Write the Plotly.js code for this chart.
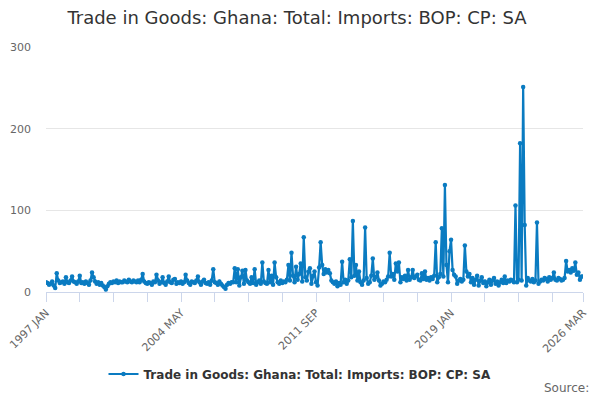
<!DOCTYPE html>
<html>
<head>
<meta charset="utf-8">
<script src="https://cdn.plot.ly/plotly-3.0.1.min.js"></script>
<style>html,body{margin:0;padding:0;background:#fff;}#chart{width:600px;height:400px;}</style>
</head>
<body>
<div id="chart"></div>
<script>
// Monthly series, 1997 JAN .. 2026 MAR
var startYear = 1997;
var monthNames = ['JAN','FEB','MAR','APR','MAY','JUN','JUL','AUG','SEP','OCT','NOV','DEC'];
var v1997 = [12, 11, 9, 10, 13, 8, 5, 23, 14, 11, 12, 13];
var v1998 = [10, 18, 12, 11, 14, 19, 13, 12, 10, 13, 20, 11];
var v1999 = [12, 10, 13, 11, 9, 14, 24, 18, 13, 10, 12, 9];
var v2000 = [11, 8, 6, 3, 7, 10, 12, 11, 13, 12, 14, 11];
var v2001 = [13, 12, 12, 14, 13, 12, 15, 13, 12, 14, 13, 12];
var v2002 = [14, 12, 15, 22, 13, 11, 10, 12, 11, 9, 13, 12];
var v2003 = [21, 14, 10, 12, 18, 11, 9, 13, 19, 12, 11, 15];
var v2004 = [16, 10, 12, 11, 13, 10, 12, 21, 14, 11, 9, 13];
var v2005 = [12, 11, 14, 19, 12, 9, 13, 15, 11, 10, 12, 9];
var v2006 = [14, 28, 12, 11, 9, 13, 10, 8, 6, 4, 9, 11];
var v2007 = [10, 12, 12, 29, 12, 28, 8, 18, 26, 10, 27, 14];
var v2008 = [12, 10, 18, 11, 28, 9, 12, 14, 10, 36, 13, 11];
var v2009 = [10, 27, 12, 20, 9, 36, 18, 12, 10, 14, 11, 13];
var v2010 = [12, 15, 33, 14, 48, 20, 12, 31, 15, 22, 35, 13];
var v2011 = [67, 18, 14, 25, 29, 10, 20, 25, 12, 8, 30, 61];
var v2012 = [33, 22, 28, 24, 27, 23, 14, 12, 10, 13, 7, 11];
var v2013 = [9, 37, 12, 15, 10, 14, 40, 18, 87, 20, 33, 14];
var v2014 = [25, 12, 9, 14, 79, 17, 10, 12, 20, 41, 15, 18];
var v2015 = [24, 14, 8, 10, 13, 12, 15, 19, 48, 19, 22, 15];
var v2016 = [35, 25, 36, 12, 18, 16, 20, 14, 27, 15, 18, 27];
var v2017 = [17, 19, 21, 15, 14, 23, 16, 25, 15, 17, 14, 18];
var v2018 = [16, 20, 61, 12, 18, 22, 78, 19, 131, 33, 12, 50];
var v2019 = [64, 27, 21, 19, 10, 14, 16, 13, 15, 57, 25, 19];
var v2020 = [22, 12, 17, 9, 15, 20, 8, 14, 18, 11, 13, 7];
var v2021 = [12, 15, 9, 14, 17, 10, 13, 8, 12, 15, 11, 19];
var v2022 = [11, 14, 13, 15, 14, 12, 106, 12, 15, 182, 14, 251];
var v2023 = [82, 8, 17, 14, 13, 16, 12, 14, 85, 10, 13, 15];
var v2024 = [14, 17, 16, 13, 18, 15, 17, 24, 15, 14, 17, 16];
var v2025 = [14, 15, 17, 38, 25, 27, 24, 29, 26, 36, 21, 24];
var v2026 = [15, 19, 19];

var yearValues = [v1997,v1998,v1999,v2000,v2001,v2002,v2003,v2004,v2005,v2006,v2007,v2008,v2009,v2010,v2011,v2012,v2013,v2014,v2015,v2016,v2017,v2018,v2019,v2020,v2021,v2022,v2023,v2024,v2025,v2026];

var categories = [];
var values = [];
yearValues.forEach(function (arr, yi) {
  arr.forEach(function (v, mi) {
    categories.push((startYear + yi) + ' ' + monthNames[mi]);
    values.push(v);
  });
});

// Axis ticks: labelled and unlabelled tick categories
var tickCategories = ['1997 JAN','1998 NOV','2000 SEP','2002 JUL','2004 MAY','2006 MAR','2008 JAN','2009 NOV','2011 SEP','2013 JUL','2015 MAY','2017 MAR','2019 JAN','2020 NOV','2022 SEP','2024 JUL','2026 MAR'];
var tickLabels = ['1997 JAN','','','','2004 MAY','','','','2011 SEP','','','','2019 JAN','','','','2026 MAR'];
var yTicks = [0, 100, 200, 300];
var seriesName = 'Trade in Goods: Ghana: Total: Imports: BOP: CP: SA';

var trace = {
  x: categories,
  y: values,
  type: 'scatter',
  mode: 'lines+markers',
  name: seriesName,
  line: {color: '#0a7bc1', width: 2.2},
  marker: {color: '#0a7bc1', size: 4.5},
  showlegend: true
};

var font = 'DejaVu Sans, sans-serif';
var layout = {
  width: 600,
  height: 400,
  margin: {l: 46, r: 17, t: 47, b: 108},
  paper_bgcolor: '#ffffff',
  plot_bgcolor: '#ffffff',
  font: {family: font, color: '#666666', size: 11},
  title: {
    text: seriesName,
    font: {family: font, size: 18, color: '#333333'},
    xref: 'container', x: 0.495, xanchor: 'center',
    yref: 'container', y: 0.955, yanchor: 'middle'
  },
  xaxis: {
    type: 'category',
    range: [0, categories.length - 1],
    tickmode: 'array',
    tickvals: tickCategories,
    ticktext: tickLabels,
    tickangle: -45,
    ticks: 'outside',
    ticklen: 9,
    tickcolor: '#ccd6eb',
    tickwidth: 1,
    showline: true,
    linecolor: '#ccd6eb',
    linewidth: 1,
    showgrid: false,
    zeroline: false,
    tickfont: {family: font, size: 11, color: '#666666'}
  },
  yaxis: {
    range: [0, 300],
    tickmode: 'array',
    tickvals: yTicks,
    ticktext: yTicks.map(String),
    showgrid: true,
    gridcolor: '#e6e6e6',
    gridwidth: 1,
    zeroline: false,
    showline: false,
    ticks: '',
    ticklabelstandoff: 14,
    tickfont: {family: font, size: 11, color: '#666666'}
  },
  legend: {
    orientation: 'h',
    xref: 'container', x: 0.5, xanchor: 'center',
    yref: 'container', y: 0.065, yanchor: 'middle',
    font: {family: font, size: 12, color: '#333333', weight: 'bold'},
    bgcolor: 'rgba(0,0,0,0)'
  },
  annotations: [{
    text: 'Source:',
    xref: 'paper', yref: 'paper',
    x: 1.015, xanchor: 'right',
    y: -0.39, yanchor: 'middle',
    showarrow: false,
    font: {family: font, size: 12, color: '#666666'}
  }]
};

Plotly.newPlot('chart', [trace], layout, {staticPlot: true, displayModeBar: false});
</script>
</body>
</html>
